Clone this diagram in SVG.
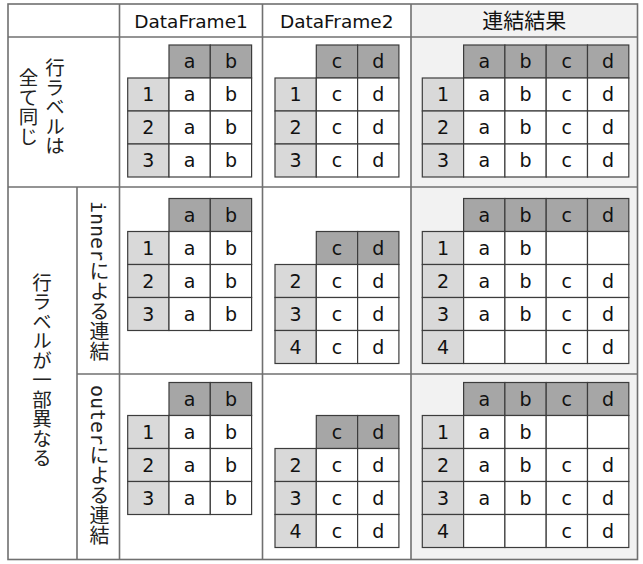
<svg xmlns="http://www.w3.org/2000/svg" width="643" height="564" viewBox="0 0 643 564">
<style>
.bg{fill:#ffffff}
.res{fill:#f2f2f2}
.grid{stroke:#707070;stroke-width:1.6;fill:none}
.h{fill:#a6a6a6;stroke:#3c3c3c;stroke-width:1.2}
.i{fill:#d9d9d9;stroke:#3c3c3c;stroke-width:1.2}
.d{fill:#ffffff;stroke:#3c3c3c;stroke-width:1.2}
.t{font-family:"DejaVu Sans",sans-serif;font-size:19px;text-anchor:middle;fill:#111}
.hd{font-family:"DejaVu Sans",sans-serif;font-size:18.5px;text-anchor:middle;fill:#111}
.jp{font-family:"Noto Sans CJK JP",sans-serif;font-size:21px;text-anchor:middle;fill:#111}
.vt{font-family:"Noto Sans CJK JP",sans-serif;font-size:19.5px;text-anchor:middle;dominant-baseline:central;fill:#222;writing-mode:vertical-rl}
.vm{font-family:"DejaVu Sans Mono","Noto Sans CJK JP",monospace;font-size:20px;text-anchor:middle;dominant-baseline:central;fill:#222;writing-mode:vertical-rl}
</style>
<rect class="bg" x="0" y="0" width="643" height="564"/>
<rect class="res" x="411" y="4" width="226.5" height="555.5"/>
<g id="grid">
<rect class="grid" x="8" y="4" width="629.5" height="555.5"/>
<line class="grid" x1="8" y1="37" x2="637.5" y2="37"/>
<line class="grid" x1="8" y1="187" x2="637.5" y2="187"/>
<line class="grid" x1="77" y1="374" x2="637.5" y2="374"/>
<line class="grid" x1="119.5" y1="4" x2="119.5" y2="559.5"/>
<line class="grid" x1="262.5" y1="4" x2="262.5" y2="559.5"/>
<line class="grid" x1="411" y1="4" x2="411" y2="559.5"/>
<line class="grid" x1="77" y1="187" x2="77" y2="559.5"/>
</g>
<g id="headers">
<text class="hd" x="191" y="28">DataFrame1</text>
<text class="hd" x="336.7" y="28">DataFrame2</text>
<text class="jp" x="524.2" y="28">連結結果</text>
</g>
<g id="row-labels">
<text class="vt" x="55" y="107">行ラベルは</text>
<text class="vt" x="28.5" y="107">全て同じ</text>
<text class="vt" x="42" y="370">行ラベルが一部異なる</text>
<text class="vm" x="98" y="281">innerによる連結</text>
<text class="vm" x="98" y="465">outerによる連結</text>
</g>

<!-- Section 1 -->
<g id="s1-df1">
<rect class="h" x="169" y="45" width="41.3" height="33"/><rect class="h" x="210.3" y="45" width="41.3" height="33"/>
<rect class="i" x="127.7" y="78" width="41.3" height="33"/><rect class="d" x="169" y="78" width="41.3" height="33"/><rect class="d" x="210.3" y="78" width="41.3" height="33"/>
<rect class="i" x="127.7" y="111" width="41.3" height="33"/><rect class="d" x="169" y="111" width="41.3" height="33"/><rect class="d" x="210.3" y="111" width="41.3" height="33"/>
<rect class="i" x="127.7" y="144" width="41.3" height="33"/><rect class="d" x="169" y="144" width="41.3" height="33"/><rect class="d" x="210.3" y="144" width="41.3" height="33"/>
<text class="t" x="189.65" y="68">a</text><text class="t" x="230.95" y="68">b</text>
<text class="t" x="148.35" y="101">1</text><text class="t" x="189.65" y="101">a</text><text class="t" x="230.95" y="101">b</text>
<text class="t" x="148.35" y="134">2</text><text class="t" x="189.65" y="134">a</text><text class="t" x="230.95" y="134">b</text>
<text class="t" x="148.35" y="167">3</text><text class="t" x="189.65" y="167">a</text><text class="t" x="230.95" y="167">b</text>
</g>
<g id="s1-df2">
<rect class="h" x="316.3" y="45" width="41.3" height="33"/><rect class="h" x="357.6" y="45" width="41.3" height="33"/>
<rect class="i" x="275" y="78" width="41.3" height="33"/><rect class="d" x="316.3" y="78" width="41.3" height="33"/><rect class="d" x="357.6" y="78" width="41.3" height="33"/>
<rect class="i" x="275" y="111" width="41.3" height="33"/><rect class="d" x="316.3" y="111" width="41.3" height="33"/><rect class="d" x="357.6" y="111" width="41.3" height="33"/>
<rect class="i" x="275" y="144" width="41.3" height="33"/><rect class="d" x="316.3" y="144" width="41.3" height="33"/><rect class="d" x="357.6" y="144" width="41.3" height="33"/>
<text class="t" x="336.95" y="68">c</text><text class="t" x="378.25" y="68">d</text>
<text class="t" x="295.65" y="101">1</text><text class="t" x="336.95" y="101">c</text><text class="t" x="378.25" y="101">d</text>
<text class="t" x="295.65" y="134">2</text><text class="t" x="336.95" y="134">c</text><text class="t" x="378.25" y="134">d</text>
<text class="t" x="295.65" y="167">3</text><text class="t" x="336.95" y="167">c</text><text class="t" x="378.25" y="167">d</text>
</g>
<g id="s1-result">
<rect class="h" x="463.6" y="45" width="41.3" height="33"/><rect class="h" x="504.9" y="45" width="41.3" height="33"/><rect class="h" x="546.2" y="45" width="41.3" height="33"/><rect class="h" x="587.5" y="45" width="41.3" height="33"/>
<rect class="i" x="422.3" y="78" width="41.3" height="33"/><rect class="d" x="463.6" y="78" width="41.3" height="33"/><rect class="d" x="504.9" y="78" width="41.3" height="33"/><rect class="d" x="546.2" y="78" width="41.3" height="33"/><rect class="d" x="587.5" y="78" width="41.3" height="33"/>
<rect class="i" x="422.3" y="111" width="41.3" height="33"/><rect class="d" x="463.6" y="111" width="41.3" height="33"/><rect class="d" x="504.9" y="111" width="41.3" height="33"/><rect class="d" x="546.2" y="111" width="41.3" height="33"/><rect class="d" x="587.5" y="111" width="41.3" height="33"/>
<rect class="i" x="422.3" y="144" width="41.3" height="33"/><rect class="d" x="463.6" y="144" width="41.3" height="33"/><rect class="d" x="504.9" y="144" width="41.3" height="33"/><rect class="d" x="546.2" y="144" width="41.3" height="33"/><rect class="d" x="587.5" y="144" width="41.3" height="33"/>
<text class="t" x="484.25" y="68">a</text><text class="t" x="525.55" y="68">b</text><text class="t" x="566.85" y="68">c</text><text class="t" x="608.15" y="68">d</text>
<text class="t" x="442.95" y="101">1</text><text class="t" x="484.25" y="101">a</text><text class="t" x="525.55" y="101">b</text><text class="t" x="566.85" y="101">c</text><text class="t" x="608.15" y="101">d</text>
<text class="t" x="442.95" y="134">2</text><text class="t" x="484.25" y="134">a</text><text class="t" x="525.55" y="134">b</text><text class="t" x="566.85" y="134">c</text><text class="t" x="608.15" y="134">d</text>
<text class="t" x="442.95" y="167">3</text><text class="t" x="484.25" y="167">a</text><text class="t" x="525.55" y="167">b</text><text class="t" x="566.85" y="167">c</text><text class="t" x="608.15" y="167">d</text>
</g>

<!-- Section 2 (inner) -->
<g id="s2-df1">
<rect class="h" x="169" y="198.5" width="41.3" height="33"/><rect class="h" x="210.3" y="198.5" width="41.3" height="33"/>
<rect class="i" x="127.7" y="231.5" width="41.3" height="33"/><rect class="d" x="169" y="231.5" width="41.3" height="33"/><rect class="d" x="210.3" y="231.5" width="41.3" height="33"/>
<rect class="i" x="127.7" y="264.5" width="41.3" height="33"/><rect class="d" x="169" y="264.5" width="41.3" height="33"/><rect class="d" x="210.3" y="264.5" width="41.3" height="33"/>
<rect class="i" x="127.7" y="297.5" width="41.3" height="33"/><rect class="d" x="169" y="297.5" width="41.3" height="33"/><rect class="d" x="210.3" y="297.5" width="41.3" height="33"/>
<text class="t" x="189.65" y="221.5">a</text><text class="t" x="230.95" y="221.5">b</text>
<text class="t" x="148.35" y="254.5">1</text><text class="t" x="189.65" y="254.5">a</text><text class="t" x="230.95" y="254.5">b</text>
<text class="t" x="148.35" y="287.5">2</text><text class="t" x="189.65" y="287.5">a</text><text class="t" x="230.95" y="287.5">b</text>
<text class="t" x="148.35" y="320.5">3</text><text class="t" x="189.65" y="320.5">a</text><text class="t" x="230.95" y="320.5">b</text>
</g>
<g id="s2-df2">
<rect class="h" x="316.3" y="231.5" width="41.3" height="33"/><rect class="h" x="357.6" y="231.5" width="41.3" height="33"/>
<rect class="i" x="275" y="264.5" width="41.3" height="33"/><rect class="d" x="316.3" y="264.5" width="41.3" height="33"/><rect class="d" x="357.6" y="264.5" width="41.3" height="33"/>
<rect class="i" x="275" y="297.5" width="41.3" height="33"/><rect class="d" x="316.3" y="297.5" width="41.3" height="33"/><rect class="d" x="357.6" y="297.5" width="41.3" height="33"/>
<rect class="i" x="275" y="330.5" width="41.3" height="33"/><rect class="d" x="316.3" y="330.5" width="41.3" height="33"/><rect class="d" x="357.6" y="330.5" width="41.3" height="33"/>
<text class="t" x="336.95" y="254.5">c</text><text class="t" x="378.25" y="254.5">d</text>
<text class="t" x="295.65" y="287.5">2</text><text class="t" x="336.95" y="287.5">c</text><text class="t" x="378.25" y="287.5">d</text>
<text class="t" x="295.65" y="320.5">3</text><text class="t" x="336.95" y="320.5">c</text><text class="t" x="378.25" y="320.5">d</text>
<text class="t" x="295.65" y="353.5">4</text><text class="t" x="336.95" y="353.5">c</text><text class="t" x="378.25" y="353.5">d</text>
</g>
<g id="s2-result">
<rect class="h" x="463.6" y="198.5" width="41.3" height="33"/><rect class="h" x="504.9" y="198.5" width="41.3" height="33"/><rect class="h" x="546.2" y="198.5" width="41.3" height="33"/><rect class="h" x="587.5" y="198.5" width="41.3" height="33"/>
<rect class="i" x="422.3" y="231.5" width="41.3" height="33"/><rect class="d" x="463.6" y="231.5" width="41.3" height="33"/><rect class="d" x="504.9" y="231.5" width="41.3" height="33"/><rect class="d" x="546.2" y="231.5" width="41.3" height="33"/><rect class="d" x="587.5" y="231.5" width="41.3" height="33"/>
<rect class="i" x="422.3" y="264.5" width="41.3" height="33"/><rect class="d" x="463.6" y="264.5" width="41.3" height="33"/><rect class="d" x="504.9" y="264.5" width="41.3" height="33"/><rect class="d" x="546.2" y="264.5" width="41.3" height="33"/><rect class="d" x="587.5" y="264.5" width="41.3" height="33"/>
<rect class="i" x="422.3" y="297.5" width="41.3" height="33"/><rect class="d" x="463.6" y="297.5" width="41.3" height="33"/><rect class="d" x="504.9" y="297.5" width="41.3" height="33"/><rect class="d" x="546.2" y="297.5" width="41.3" height="33"/><rect class="d" x="587.5" y="297.5" width="41.3" height="33"/>
<rect class="i" x="422.3" y="330.5" width="41.3" height="33"/><rect class="d" x="463.6" y="330.5" width="41.3" height="33"/><rect class="d" x="504.9" y="330.5" width="41.3" height="33"/><rect class="d" x="546.2" y="330.5" width="41.3" height="33"/><rect class="d" x="587.5" y="330.5" width="41.3" height="33"/>
<text class="t" x="484.25" y="221.5">a</text><text class="t" x="525.55" y="221.5">b</text><text class="t" x="566.85" y="221.5">c</text><text class="t" x="608.15" y="221.5">d</text>
<text class="t" x="442.95" y="254.5">1</text><text class="t" x="484.25" y="254.5">a</text><text class="t" x="525.55" y="254.5">b</text>
<text class="t" x="442.95" y="287.5">2</text><text class="t" x="484.25" y="287.5">a</text><text class="t" x="525.55" y="287.5">b</text><text class="t" x="566.85" y="287.5">c</text><text class="t" x="608.15" y="287.5">d</text>
<text class="t" x="442.95" y="320.5">3</text><text class="t" x="484.25" y="320.5">a</text><text class="t" x="525.55" y="320.5">b</text><text class="t" x="566.85" y="320.5">c</text><text class="t" x="608.15" y="320.5">d</text>
<text class="t" x="442.95" y="353.5">4</text><text class="t" x="566.85" y="353.5">c</text><text class="t" x="608.15" y="353.5">d</text>
</g>

<!-- Section 3 (outer) -->
<g id="s3-df1">
<rect class="h" x="169" y="382.5" width="41.3" height="33"/><rect class="h" x="210.3" y="382.5" width="41.3" height="33"/>
<rect class="i" x="127.7" y="415.5" width="41.3" height="33"/><rect class="d" x="169" y="415.5" width="41.3" height="33"/><rect class="d" x="210.3" y="415.5" width="41.3" height="33"/>
<rect class="i" x="127.7" y="448.5" width="41.3" height="33"/><rect class="d" x="169" y="448.5" width="41.3" height="33"/><rect class="d" x="210.3" y="448.5" width="41.3" height="33"/>
<rect class="i" x="127.7" y="481.5" width="41.3" height="33"/><rect class="d" x="169" y="481.5" width="41.3" height="33"/><rect class="d" x="210.3" y="481.5" width="41.3" height="33"/>
<text class="t" x="189.65" y="405.5">a</text><text class="t" x="230.95" y="405.5">b</text>
<text class="t" x="148.35" y="438.5">1</text><text class="t" x="189.65" y="438.5">a</text><text class="t" x="230.95" y="438.5">b</text>
<text class="t" x="148.35" y="471.5">2</text><text class="t" x="189.65" y="471.5">a</text><text class="t" x="230.95" y="471.5">b</text>
<text class="t" x="148.35" y="504.5">3</text><text class="t" x="189.65" y="504.5">a</text><text class="t" x="230.95" y="504.5">b</text>
</g>
<g id="s3-df2">
<rect class="h" x="316.3" y="415.5" width="41.3" height="33"/><rect class="h" x="357.6" y="415.5" width="41.3" height="33"/>
<rect class="i" x="275" y="448.5" width="41.3" height="33"/><rect class="d" x="316.3" y="448.5" width="41.3" height="33"/><rect class="d" x="357.6" y="448.5" width="41.3" height="33"/>
<rect class="i" x="275" y="481.5" width="41.3" height="33"/><rect class="d" x="316.3" y="481.5" width="41.3" height="33"/><rect class="d" x="357.6" y="481.5" width="41.3" height="33"/>
<rect class="i" x="275" y="514.5" width="41.3" height="33"/><rect class="d" x="316.3" y="514.5" width="41.3" height="33"/><rect class="d" x="357.6" y="514.5" width="41.3" height="33"/>
<text class="t" x="336.95" y="438.5">c</text><text class="t" x="378.25" y="438.5">d</text>
<text class="t" x="295.65" y="471.5">2</text><text class="t" x="336.95" y="471.5">c</text><text class="t" x="378.25" y="471.5">d</text>
<text class="t" x="295.65" y="504.5">3</text><text class="t" x="336.95" y="504.5">c</text><text class="t" x="378.25" y="504.5">d</text>
<text class="t" x="295.65" y="537.5">4</text><text class="t" x="336.95" y="537.5">c</text><text class="t" x="378.25" y="537.5">d</text>
</g>
<g id="s3-result">
<rect class="h" x="463.6" y="382.5" width="41.3" height="33"/><rect class="h" x="504.9" y="382.5" width="41.3" height="33"/><rect class="h" x="546.2" y="382.5" width="41.3" height="33"/><rect class="h" x="587.5" y="382.5" width="41.3" height="33"/>
<rect class="i" x="422.3" y="415.5" width="41.3" height="33"/><rect class="d" x="463.6" y="415.5" width="41.3" height="33"/><rect class="d" x="504.9" y="415.5" width="41.3" height="33"/><rect class="d" x="546.2" y="415.5" width="41.3" height="33"/><rect class="d" x="587.5" y="415.5" width="41.3" height="33"/>
<rect class="i" x="422.3" y="448.5" width="41.3" height="33"/><rect class="d" x="463.6" y="448.5" width="41.3" height="33"/><rect class="d" x="504.9" y="448.5" width="41.3" height="33"/><rect class="d" x="546.2" y="448.5" width="41.3" height="33"/><rect class="d" x="587.5" y="448.5" width="41.3" height="33"/>
<rect class="i" x="422.3" y="481.5" width="41.3" height="33"/><rect class="d" x="463.6" y="481.5" width="41.3" height="33"/><rect class="d" x="504.9" y="481.5" width="41.3" height="33"/><rect class="d" x="546.2" y="481.5" width="41.3" height="33"/><rect class="d" x="587.5" y="481.5" width="41.3" height="33"/>
<rect class="i" x="422.3" y="514.5" width="41.3" height="33"/><rect class="d" x="463.6" y="514.5" width="41.3" height="33"/><rect class="d" x="504.9" y="514.5" width="41.3" height="33"/><rect class="d" x="546.2" y="514.5" width="41.3" height="33"/><rect class="d" x="587.5" y="514.5" width="41.3" height="33"/>
<text class="t" x="484.25" y="405.5">a</text><text class="t" x="525.55" y="405.5">b</text><text class="t" x="566.85" y="405.5">c</text><text class="t" x="608.15" y="405.5">d</text>
<text class="t" x="442.95" y="438.5">1</text><text class="t" x="484.25" y="438.5">a</text><text class="t" x="525.55" y="438.5">b</text>
<text class="t" x="442.95" y="471.5">2</text><text class="t" x="484.25" y="471.5">a</text><text class="t" x="525.55" y="471.5">b</text><text class="t" x="566.85" y="471.5">c</text><text class="t" x="608.15" y="471.5">d</text>
<text class="t" x="442.95" y="504.5">3</text><text class="t" x="484.25" y="504.5">a</text><text class="t" x="525.55" y="504.5">b</text><text class="t" x="566.85" y="504.5">c</text><text class="t" x="608.15" y="504.5">d</text>
<text class="t" x="442.95" y="537.5">4</text><text class="t" x="566.85" y="537.5">c</text><text class="t" x="608.15" y="537.5">d</text>
</g>
</svg>
